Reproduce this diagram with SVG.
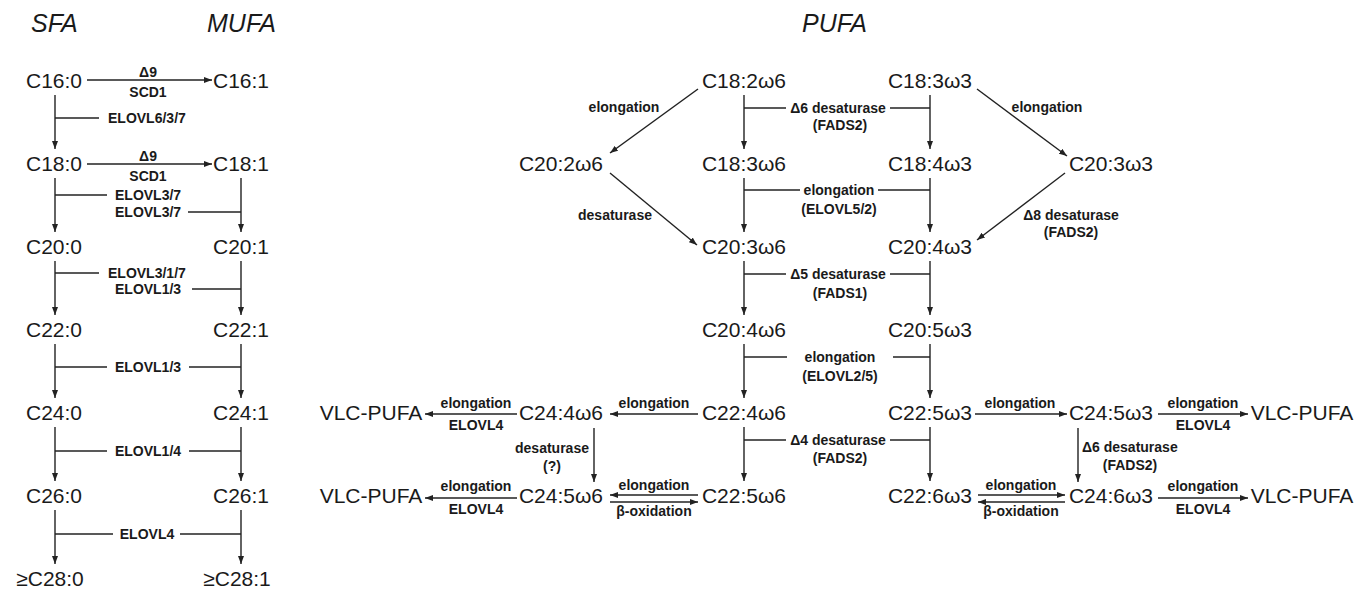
<svg xmlns="http://www.w3.org/2000/svg" width="1357" height="589" viewBox="0 0 1357 589">
<style>
.t{font-family:"Liberation Sans",Arial,sans-serif;font-size:21px;fill:#1a1a1a;text-anchor:middle}
.h{font-family:"Liberation Sans",Arial,sans-serif;font-size:25px;font-style:italic;fill:#1a1a1a}
.l{font-family:"Liberation Sans",Arial,sans-serif;font-size:14px;font-weight:bold;fill:#1a1a1a;text-anchor:middle}
.ls{font-family:"Liberation Sans",Arial,sans-serif;font-size:14px;font-weight:bold;fill:#1a1a1a;text-anchor:start}
.c line{stroke:#222;stroke-width:1.4;fill:none}
.c line.a{marker-end:url(#ah)}
</style>
<defs>
<marker id="ah" viewBox="0 0 8 6" refX="8" refY="3" markerWidth="8" markerHeight="6" orient="auto" markerUnits="userSpaceOnUse"><path d="M0,0 L8,3 L0,6 z" fill="#222"/></marker>
</defs>
<rect width="1357" height="589" fill="#fff"/>
<g id="titles">
<text class="h" x="31" y="32">SFA</text>
<text class="h" x="207" y="32">MUFA</text>
<text class="h" x="802" y="32">PUFA</text>
</g>
<g id="connectors" class="c">
<line class="a" x1="87" y1="80" x2="212" y2="80"/>
<line class="a" x1="87" y1="164" x2="212" y2="164"/>
<line class="a" x1="55" y1="95" x2="55" y2="149"/>
<line x1="55" y1="118" x2="99" y2="118"/>
<line class="a" x1="55" y1="178" x2="55" y2="232"/>
<line x1="55" y1="195" x2="107" y2="195"/>
<line class="a" x1="241" y1="178" x2="241" y2="232"/>
<line x1="188" y1="212" x2="241" y2="212"/>
<line class="a" x1="55" y1="261" x2="55" y2="315"/>
<line x1="55" y1="273" x2="99" y2="273"/>
<line class="a" x1="241" y1="261" x2="241" y2="315"/>
<line x1="192" y1="289" x2="241" y2="289"/>
<line class="a" x1="55" y1="344" x2="55" y2="398"/>
<line class="a" x1="241" y1="344" x2="241" y2="398"/>
<line x1="55" y1="367" x2="107" y2="367"/>
<line x1="189" y1="367" x2="241" y2="367"/>
<line class="a" x1="55" y1="427" x2="55" y2="481"/>
<line class="a" x1="241" y1="427" x2="241" y2="481"/>
<line x1="55" y1="451" x2="107" y2="451"/>
<line x1="189" y1="451" x2="241" y2="451"/>
<line class="a" x1="55" y1="510" x2="55" y2="564"/>
<line class="a" x1="241" y1="510" x2="241" y2="564"/>
<line x1="55" y1="534" x2="113" y2="534"/>
<line x1="180" y1="534" x2="241" y2="534"/>
<line class="a" x1="744" y1="95" x2="744" y2="149"/>
<line class="a" x1="930" y1="95" x2="930" y2="149"/>
<line x1="744" y1="108" x2="786" y2="108"/>
<line x1="890" y1="108" x2="930" y2="108"/>
<line class="a" x1="744" y1="178" x2="744" y2="232"/>
<line class="a" x1="930" y1="178" x2="930" y2="232"/>
<line x1="744" y1="190" x2="800" y2="190"/>
<line x1="878" y1="190" x2="930" y2="190"/>
<line class="a" x1="744" y1="261" x2="744" y2="315"/>
<line class="a" x1="930" y1="261" x2="930" y2="315"/>
<line x1="744" y1="274" x2="786" y2="274"/>
<line x1="890" y1="274" x2="930" y2="274"/>
<line class="a" x1="744" y1="344" x2="744" y2="398"/>
<line class="a" x1="930" y1="344" x2="930" y2="398"/>
<line x1="744" y1="357" x2="787" y2="357"/>
<line x1="893" y1="357" x2="930" y2="357"/>
<line class="a" x1="744" y1="427" x2="744" y2="481"/>
<line class="a" x1="930" y1="427" x2="930" y2="481"/>
<line x1="744" y1="440" x2="786" y2="440"/>
<line x1="890" y1="440" x2="930" y2="440"/>
<line class="a" x1="698" y1="89" x2="610" y2="153"/>
<line class="a" x1="610" y1="173" x2="697" y2="245"/>
<line class="a" x1="977" y1="89" x2="1067" y2="156"/>
<line class="a" x1="1065" y1="173" x2="977" y2="240"/>
<line class="a" x1="698" y1="414" x2="610" y2="414"/>
<line class="a" x1="517" y1="414" x2="425" y2="414"/>
<line class="a" x1="594" y1="428" x2="594" y2="482"/>
<line class="a" x1="975" y1="414" x2="1067" y2="414"/>
<line class="a" x1="1158" y1="414" x2="1248" y2="414"/>
<line class="a" x1="1078" y1="428" x2="1078" y2="482"/>
<line class="a" x1="517" y1="498" x2="425" y2="498"/>
<line class="a" x1="698" y1="495" x2="610" y2="495"/>
<line class="a" x1="610" y1="502" x2="698" y2="502"/>
<line class="a" x1="978" y1="495" x2="1065" y2="495"/>
<line class="a" x1="1065" y1="502" x2="978" y2="502"/>
<line class="a" x1="1158" y1="498" x2="1248" y2="498"/>
</g>
<g id="labels">
<text class="l" x="148" y="77">Δ9</text>
<text class="l" x="148" y="97">SCD1</text>
<text class="l" x="148" y="161">Δ9</text>
<text class="l" x="148" y="181">SCD1</text>
<text class="ls" x="108" y="123">ELOVL6/3/7</text>
<text class="ls" x="115" y="200">ELOVL3/7</text>
<text class="ls" x="115" y="217">ELOVL3/7</text>
<text class="ls" x="108" y="278">ELOVL3/1/7</text>
<text class="ls" x="115" y="294">ELOVL1/3</text>
<text class="l" x="148" y="372">ELOVL1/3</text>
<text class="l" x="148" y="456">ELOVL1/4</text>
<text class="l" x="147" y="539">ELOVL4</text>
<text class="l" x="838" y="113">Δ6 desaturase</text>
<text class="l" x="840" y="130">(FADS2)</text>
<text class="l" x="839" y="195">elongation</text>
<text class="l" x="839" y="214">(ELOVL5/2)</text>
<text class="l" x="838" y="279">Δ5 desaturase</text>
<text class="l" x="840" y="298">(FADS1)</text>
<text class="l" x="840" y="362">elongation</text>
<text class="l" x="840" y="381">(ELOVL2/5)</text>
<text class="l" x="838" y="445">Δ4 desaturase</text>
<text class="l" x="840" y="463">(FADS2)</text>
<text class="l" x="624" y="112">elongation</text>
<text class="l" x="615" y="220">desaturase</text>
<text class="l" x="1047" y="112">elongation</text>
<text class="l" x="1071" y="220">Δ8 desaturase</text>
<text class="l" x="1071" y="237">(FADS2)</text>
<text class="l" x="654" y="408">elongation</text>
<text class="l" x="476" y="408">elongation</text>
<text class="l" x="476" y="430">ELOVL4</text>
<text class="l" x="552" y="453">desaturase</text>
<text class="l" x="552" y="471">(?)</text>
<text class="l" x="1020" y="408">elongation</text>
<text class="l" x="1203" y="408">elongation</text>
<text class="l" x="1203" y="430">ELOVL4</text>
<text class="ls" x="1082" y="452">Δ6 desaturase</text>
<text class="l" x="1130" y="470">(FADS2)</text>
<text class="l" x="476" y="491">elongation</text>
<text class="l" x="476" y="514">ELOVL4</text>
<text class="l" x="654" y="490">elongation</text>
<text class="l" x="654" y="516">β-oxidation</text>
<text class="l" x="1021" y="490">elongation</text>
<text class="l" x="1021" y="516">β-oxidation</text>
<text class="l" x="1203" y="491">elongation</text>
<text class="l" x="1203" y="514">ELOVL4</text>
</g>
<g id="n-c160"><text class="t" x="54" y="88">C16:0</text></g>
<g id="n-c161"><text class="t" x="241" y="88">C16:1</text></g>
<g id="n-c180"><text class="t" x="54" y="171">C18:0</text></g>
<g id="n-c181"><text class="t" x="241" y="171">C18:1</text></g>
<g id="n-c200"><text class="t" x="54" y="254">C20:0</text></g>
<g id="n-c201"><text class="t" x="241" y="254">C20:1</text></g>
<g id="n-c220"><text class="t" x="54" y="337">C22:0</text></g>
<g id="n-c221"><text class="t" x="241" y="337">C22:1</text></g>
<g id="n-c240"><text class="t" x="54" y="420">C24:0</text></g>
<g id="n-c241"><text class="t" x="241" y="420">C24:1</text></g>
<g id="n-c260"><text class="t" x="54" y="503">C26:0</text></g>
<g id="n-c261"><text class="t" x="241" y="503">C26:1</text></g>
<g id="n-c280"><text class="t" x="50" y="586">≥C28:0</text></g>
<g id="n-c281"><text class="t" x="237" y="586">≥C28:1</text></g>
<g id="n-c182w6"><text class="t" x="744" y="88">C18:2ω6</text></g>
<g id="n-c183w3"><text class="t" x="930" y="88">C18:3ω3</text></g>
<g id="n-c202w6"><text class="t" x="561" y="171">C20:2ω6</text></g>
<g id="n-c183w6"><text class="t" x="744" y="171">C18:3ω6</text></g>
<g id="n-c184w3"><text class="t" x="930" y="171">C18:4ω3</text></g>
<g id="n-c203w3"><text class="t" x="1111" y="171">C20:3ω3</text></g>
<g id="n-c203w6"><text class="t" x="744" y="254">C20:3ω6</text></g>
<g id="n-c204w3"><text class="t" x="930" y="254">C20:4ω3</text></g>
<g id="n-c204w6"><text class="t" x="744" y="337">C20:4ω6</text></g>
<g id="n-c205w3"><text class="t" x="930" y="337">C20:5ω3</text></g>
<g id="n-vlc1"><text class="t" x="371" y="420">VLC-PUFA</text></g>
<g id="n-c244w6"><text class="t" x="561" y="420">C24:4ω6</text></g>
<g id="n-c224w6"><text class="t" x="744" y="420">C22:4ω6</text></g>
<g id="n-c225w3"><text class="t" x="930" y="420">C22:5ω3</text></g>
<g id="n-c245w3"><text class="t" x="1111" y="420">C24:5ω3</text></g>
<g id="n-vlc2"><text class="t" x="1302" y="420">VLC-PUFA</text></g>
<g id="n-vlc3"><text class="t" x="371" y="503">VLC-PUFA</text></g>
<g id="n-c245w6"><text class="t" x="561" y="503">C24:5ω6</text></g>
<g id="n-c225w6"><text class="t" x="744" y="503">C22:5ω6</text></g>
<g id="n-c226w3"><text class="t" x="930" y="503">C22:6ω3</text></g>
<g id="n-c246w3"><text class="t" x="1111" y="503">C24:6ω3</text></g>
<g id="n-vlc4"><text class="t" x="1302" y="503">VLC-PUFA</text></g>
</svg>
